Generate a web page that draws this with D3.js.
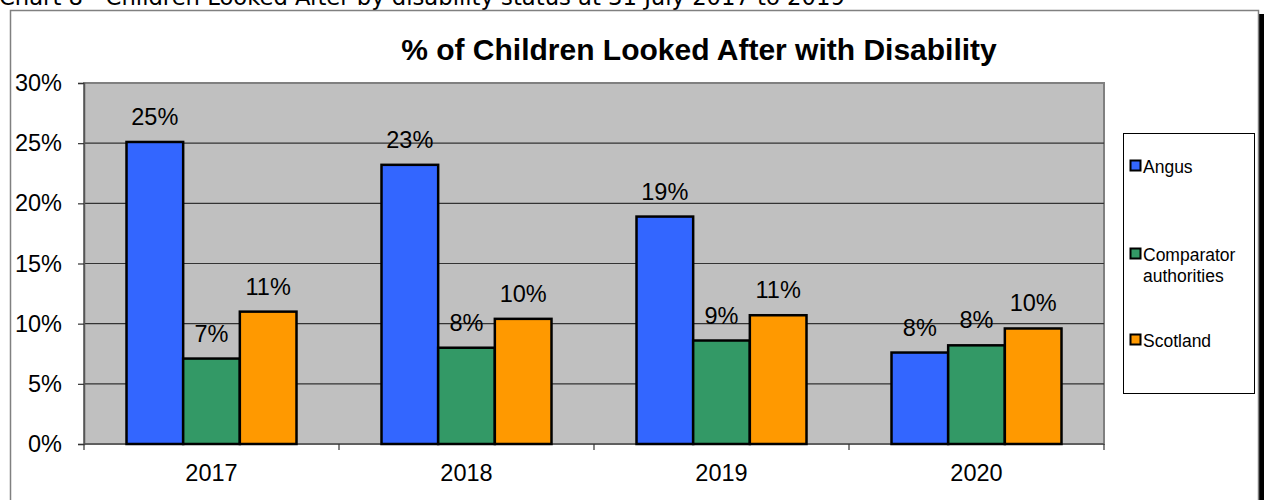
<!DOCTYPE html>
<html>
<head>
<meta charset="utf-8">
<script src="https://cdn.jsdelivr.net/npm/d3@7"></script>
<style>
  html, body { margin: 0; padding: 0; background: #fff; overflow: hidden; }
  svg { display: block; }
</style>
</head>
<body>
<svg id="chart" width="1264" height="500"></svg>
<script>
// Chart data
const years = ["2017", "2018", "2019", "2020"];
const seriesNames = ["Angus", "Comparator authorities", "Scotland"];
const angus = [25.1, 23.2, 18.9, 7.6];
const comparator = [7.1, 8.0, 8.6, 8.2];
const scotland = [11.0, 10.4, 10.7, 9.6];
const yTicks = [0, 5, 10, 15, 20, 25, 30];
const colors = ["#3366FF", "#339966", "#FF9900"];

const seriesValues = [angus, comparator, scotland];
const FONT = "Arial, 'Liberation Sans', sans-serif";

const svg = d3.select("#chart");

// Caption above the frame (partly clipped at the page top)
svg.append("text")
  .attr("x", -1).attr("y", 5)
  .attr("font-family", "'DejaVu Sans', sans-serif")
  .attr("font-size", 22.7)
  .attr("fill", "#000")
  .text("Chart 8 - Children Looked After by disability status at 31 July 2017 to 2019");

// Outer chart frame with a dark drop shadow on the right
svg.append("rect")
  .attr("x", 1259).attr("y", 14).attr("width", 6).attr("height", 500)
  .attr("fill", "#000");
svg.append("rect")
  .attr("x", 10.5).attr("y", 10.5).attr("width", 1248).attr("height", 520)
  .attr("fill", "#fff").attr("stroke", "#808080").attr("stroke-width", 1.5);

// Plot area
const plot = { left: 84, right: 1104, top: 83, bottom: 444 };

const x0 = d3.scaleBand().domain(years).range([plot.left, plot.right]).paddingInner(0).paddingOuter(0);
const y = d3.scaleLinear().domain([0, 30]).range([plot.bottom, plot.top]);

// Bars fill 2/3 of each category band
const barW = x0.bandwidth() / 4.5;
const groupOffset = (x0.bandwidth() - barW * 3) / 2;

svg.append("rect")
  .attr("x", plot.left).attr("y", plot.top)
  .attr("width", plot.right - plot.left).attr("height", plot.bottom - plot.top)
  .attr("fill", "#C0C0C0").attr("stroke", "#808080").attr("stroke-width", 2);

// Gridlines
svg.append("g")
  .selectAll("line")
  .data(yTicks.filter(t => t > 0 && t < 30))
  .join("line")
  .attr("x1", plot.left).attr("x2", plot.right)
  .attr("y1", d => y(d)).attr("y2", d => y(d))
  .attr("stroke", "#333").attr("stroke-width", 1.2);

// Y axis
const yAxis = svg.append("g")
  .attr("transform", `translate(${plot.left},0)`)
  .call(d3.axisLeft(y).tickValues(yTicks).tickSize(6).tickPadding(16).tickFormat(d => d + "%"));
yAxis.select(".domain").attr("stroke", "#555").attr("stroke-width", 1.5);
yAxis.selectAll(".tick line").attr("stroke", "#333").attr("stroke-width", 1.2);
yAxis.selectAll("text")
  .attr("font-family", FONT)
  .attr("font-size", 23.5).attr("fill", "#000");

// X axis with ticks at category boundaries
const xAxisG = svg.append("g").attr("transform", `translate(0,${plot.bottom})`);
xAxisG.append("line")
  .attr("x1", plot.left).attr("x2", plot.right)
  .attr("stroke", "#555").attr("stroke-width", 1.5);
const boundaries = years.map(d => x0(d)).concat([x0(years[years.length - 1]) + x0.bandwidth()]);
xAxisG.selectAll("line.tk")
  .data(boundaries)
  .join("line").attr("class", "tk")
  .attr("x1", d => d).attr("x2", d => d)
  .attr("y1", 0).attr("y2", 6)
  .attr("stroke", "#333").attr("stroke-width", 1.2);
xAxisG.selectAll("text")
  .data(years)
  .join("text")
  .attr("x", d => x0(d) + x0.bandwidth() / 2)
  .attr("y", 37)
  .attr("text-anchor", "middle")
  .attr("font-family", FONT)
  .attr("font-size", 23.5).attr("fill", "#000")
  .text(d => d);

// Bars
const rows = [];
years.forEach((yr, i) => {
  seriesNames.forEach((s, j) => {
    rows.push({ year: yr, series: j, value: seriesValues[j][i] });
  });
});

const barX = d => x0(d.year) + groupOffset + d.series * barW;

svg.append("g")
  .selectAll("rect")
  .data(rows)
  .join("rect")
  .attr("x", barX)
  .attr("y", d => y(d.value))
  .attr("width", barW)
  .attr("height", d => y(0) - y(d.value))
  .attr("fill", d => colors[d.series])
  .attr("stroke", "#000").attr("stroke-width", 2.5);

// Value labels
svg.append("g")
  .selectAll("text")
  .data(rows)
  .join("text")
  .attr("x", d => barX(d) + barW / 2)
  .attr("y", d => y(d.value) - 17)
  .attr("text-anchor", "middle")
  .attr("font-family", FONT)
  .attr("font-size", 23.5).attr("fill", "#000")
  .text(d => Math.round(d.value) + "%");

// Title
svg.append("text")
  .attr("x", 699).attr("y", 60)
  .attr("text-anchor", "middle")
  .attr("font-family", FONT)
  .attr("font-size", 30).attr("font-weight", "bold").attr("fill", "#000")
  .text("% of Children Looked After with Disability");

// Legend
const legend = svg.append("g");
legend.append("rect")
  .attr("x", 1123.5).attr("y", 133.5).attr("width", 131).attr("height", 260)
  .attr("fill", "#fff").attr("stroke", "#000").attr("stroke-width", 1);

const legendItems = [
  { lines: ["Angus"], y: 166 },
  { lines: ["Comparator", "authorities"], y: 254 },
  { lines: ["Scotland"], y: 340 }
];
legendItems.forEach((it, i) => {
  legend.append("rect")
    .attr("x", 1130.5).attr("y", it.y - 5.5).attr("width", 10).attr("height", 10)
    .attr("fill", colors[i]).attr("stroke", "#000").attr("stroke-width", 2);
  const t = legend.append("text")
    .attr("font-family", FONT)
    .attr("font-size", 17.5).attr("fill", "#000");
  it.lines.forEach((ln, k) => {
    t.append("tspan")
      .attr("x", 1143).attr("y", it.y + 6.5 + k * 21)
      .text(ln);
  });
});
</script>
</body>
</html>
